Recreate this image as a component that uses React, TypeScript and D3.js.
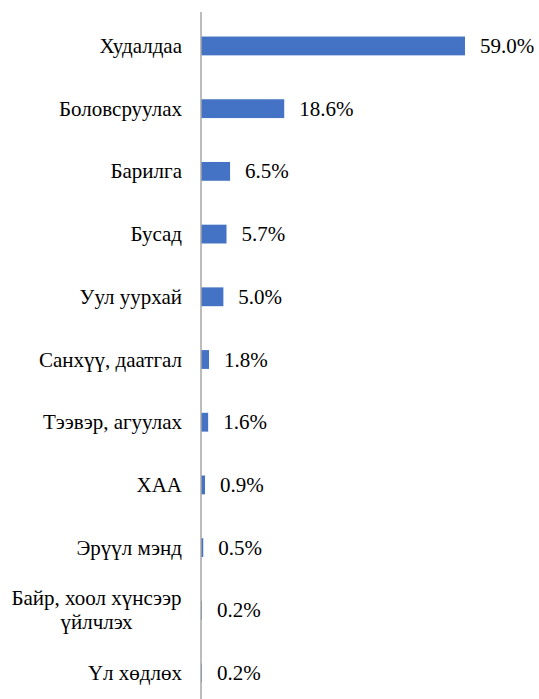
import React from "react";
import * as d3 from "d3";

const categories = [
  "Худалдаа",
  "Боловсруулах",
  "Барилга",
  "Бусад",
  "Уул уурхай",
  "Санхүү, даатгал",
  "Тээвэр, агуулах",
  "ХАА",
  "Эрүүл мэнд",
  "Байр, хоол хүнсээр\nүйлчлэх",
  "Үл хөдлөх",
];
const values = [59.0, 18.6, 6.5, 5.7, 5.0, 1.8, 1.6, 0.9, 0.5, 0.2, 0.2];

const W = 539;
const H = 699;
const FS = 21;
const FONT = "Liberation Serif";

export default function App() {
  const x0 = 201;
  const x = d3.scaleLinear().domain([0, 59]).range([x0, 465]);
  const y = d3
    .scaleBand<string>()
    .domain(categories)
    .range([14.6, 704.4])
    .paddingInner(0.7)
    .paddingOuter(0.35);

  const bars = categories.map((c, i) => (
    <rect
      key={"b" + i}
      x={x(0)}
      y={y(c) as number}
      width={Math.max(0, x(values[i]) - x(0))}
      height={y.bandwidth()}
      fill="#4472C4"
    />
  ));

  const labels: React.ReactElement[] = [];
  categories.forEach((c, i) => {
    const yc = (y(c) as number) + y.bandwidth() / 2 + 7;
    const lines = c.split("\n");
    if (lines.length === 1) {
      labels.push(
        <text key={"l" + i} className="lbl" x={182} y={yc} textAnchor="end" fontFamily={FONT} fontSize={FS}>
          {c}
        </text>
      );
    } else {
      lines.forEach((ln, k) => {
        labels.push(
          <text
            key={"l" + i + "_" + k}
            className="lbl"
            x={96.5}
            y={yc + (k - (lines.length - 1) / 2) * 24}
            textAnchor="middle"
            fontFamily={FONT}
            fontSize={FS}
          >
            {ln}
          </text>
        );
      });
    }
    labels.push(
      <text key={"v" + i} className="lbl" x={x(values[i]) + 15} y={yc} fontFamily={FONT} fontSize={FS}>
        {values[i].toFixed(1) + "%"}
      </text>
    );
  });

  return (
    <div
      style={{
        position: "absolute",
        left: 0,
        top: 0,
        width: W,
        height: H,
        fontFamily: "Liberation Serif, serif",
      }}
    >
      <svg width={W} height={H} style={{ display: "block", fontFamily: "Liberation Serif, serif" }}>
        <style>{".lbl { font-family: 'Liberation Serif', serif; }"}</style>
        {bars}
        {labels}
        <line x1={x0} x2={x0} y1={12} y2={H} stroke="#A6A6A6" strokeWidth={1.5} />
      </svg>
    </div>
  );
}
